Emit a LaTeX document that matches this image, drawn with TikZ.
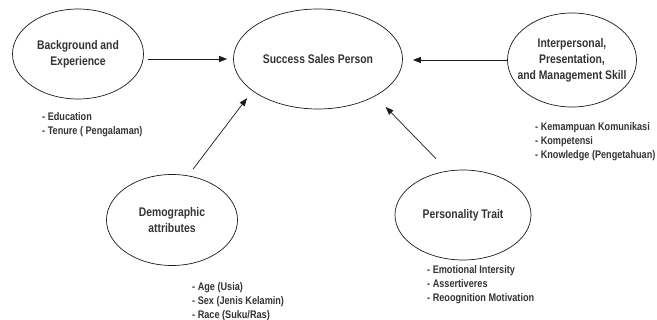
\documentclass[tikz,border=0pt]{standalone}
\usepackage{fontspec}
\setmainfont{Liberation Sans}[FakeStretch=0.83]
\usetikzlibrary{shapes.geometric,arrows.meta}
\definecolor{inkgray}{HTML}{333333}
\definecolor{linegray}{HTML}{1A1A1A}
\begin{document}
\begin{tikzpicture}[x=1pt,y=-1pt,
  oval/.style={ellipse,draw=linegray,line width=0.7pt,inner sep=0pt},
  ovaltext/.style={align=center,inner sep=0pt,text=inkgray,
    font=\bfseries\fontsize{12.5}{16}\selectfont},
  listtext/.style={align=left,anchor=north west,inner sep=0pt,text=inkgray,
    font=\bfseries\fontsize{11}{14}\selectfont},
  link/.style={draw=linegray,line width=0.7pt,
    -{Triangle[length=8pt,width=6pt]}}]
\useasboundingbox (0,0) rectangle (657,320);

% factor ellipses
\node[oval,minimum width=131pt,minimum height=90pt]  (bg)   at (78,54)   {};
\node[oval,minimum width=169pt,minimum height=100pt] (succ) at (318,59)  {};
\node[oval,minimum width=129pt,minimum height=94pt]  (ip)   at (572,60)  {};
\node[oval,minimum width=131pt,minimum height=91pt]  (demo) at (172,220) {};
\node[oval,minimum width=136pt,minimum height=90pt]  (pers) at (463,215) {};

% ellipse labels
\node[ovaltext] (bgt)   at (bg)   {Background and\\Experience};
\node[ovaltext] (succt) at (succ) {Success Sales Person};
\node[ovaltext] (ipt)   at (ip)   {Interpersonal,\\Presentation,\\and Management Skill};
\node[ovaltext] (demot) at (demo) {Demographic\\attributes};
\node[ovaltext] (perst) at (pers) {Personality Trait};

% item lists
\node[listtext] (bgl)   at (42,112)  {- Education\\- Tenure ( Pengalaman)};
\node[listtext] (ipl)   at (535,122) {- Kemampuan Komunikasi\\- Kompetensi\\- Knowledge (Pengetahuan)};
\node[listtext] (demol) at (192,282) {- Age (Usia)\\- Sex (Jenis Kelamin)\\- Race (Suku/Ras)};
\node[listtext] (persl) at (427,265) {- Emotional Intersity\\- Assertiveres\\- Reoognition Motivation};

% influence arrows
\draw[link,shorten <=4pt,shorten >=6pt] (bg.east |- succ.west) -- (succ.west);
\draw[link,shorten >=10pt] (ip.west) -- (ip.west -| succ.east);
\draw[link,shorten <=8pt,shorten >=9pt] (demo.70) -- (succ.206);
\draw[link,shorten <=17pt,shorten >=15pt] (pers.109) -- (succ.-33);
\end{tikzpicture}
\end{document}
